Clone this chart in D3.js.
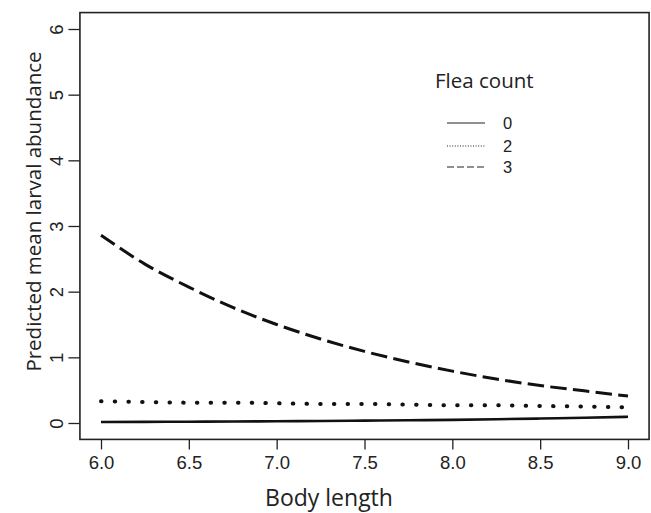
<!DOCTYPE html>
<html>
<head>
<meta charset="utf-8">
<title>Predicted mean larval abundance</title>
<script src="https://cdnjs.cloudflare.com/ajax/libs/d3/7.8.5/d3.min.js"></script>
<style>
  body { margin: 0; background: #fff; }
  svg { display: block; }
</style>
</head>
<body>
<script>
  // values
  var bodyLength = [6.0, 6.25, 6.5, 6.75, 7.0, 7.25, 7.5, 7.75, 8.0, 8.25, 8.5, 8.75, 9.0];
  var flea0 = [0.015, 0.017, 0.02, 0.023, 0.027, 0.031, 0.036, 0.041, 0.048, 0.057, 0.068, 0.08, 0.095];
  var flea2 = [0.33, 0.32, 0.31, 0.31, 0.30, 0.29, 0.29, 0.28, 0.27, 0.27, 0.26, 0.25, 0.24];
  var flea3 = [2.86, 2.42, 2.07, 1.76, 1.50, 1.28, 1.09, 0.93, 0.79, 0.67, 0.57, 0.49, 0.41];
  var seriesNames = ["0", "2", "3"];
  var xTicks = [6.0, 6.5, 7.0, 7.5, 8.0, 8.5, 9.0];
  var yTicks = [0, 1, 2, 3, 4, 5, 6];

  var w = 651, h = 513;
  var tickFont = "'Liberation Sans', Arial, sans-serif";
  var titleFont = "'Open Sans', 'Noto Sans', sans-serif";

  var svg = d3.select("body").append("svg")
      .attr("width", w)
      .attr("height", h);

  var x = d3.scaleLinear().domain([6, 9]).range([101, 628]);
  var y = d3.scaleLinear().domain([0, 6]).range([423, 29]);

  // plot box (R style 4% padding)
  var x0 = x(5.88), x1 = x(9.12), y0 = y(-0.25), y1 = y(6.25);

  // x axis
  var gx = svg.append("g")
      .attr("transform", "translate(0," + y0 + ")")
      .call(d3.axisBottom(x).tickValues(xTicks).tickSize(10).tickPadding(6)
        .tickFormat(d3.format(".1f")));
  gx.select(".domain").remove();
  gx.selectAll("line").attr("stroke", "#222").attr("stroke-width", 1.3);
  gx.selectAll("text")
      .attr("font-family", tickFont)
      .attr("font-size", 18.5)
      .attr("fill", "#222");

  // y axis, labels turned like R's las=0
  var gy = svg.append("g")
      .attr("transform", "translate(" + x0 + ",0)")
      .call(d3.axisLeft(y).tickValues(yTicks).tickSize(11.5).tickFormat(d3.format("d")));
  gy.select(".domain").remove();
  gy.selectAll("line").attr("stroke", "#222").attr("stroke-width", 1.3);
  gy.selectAll("text")
      .attr("font-family", tickFont)
      .attr("font-size", 18.5)
      .attr("fill", "#222")
      .attr("text-anchor", "middle")
      .attr("dy", null)
      .attr("x", null)
      .attr("transform", "translate(-17,0) rotate(-90)");

  svg.append("rect")
      .attr("x", x0).attr("y", y1)
      .attr("width", x1 - x0).attr("height", y0 - y1)
      .attr("fill", "none")
      .attr("stroke", "#222")
      .attr("stroke-width", 1.6);

  // lines
  var line = d3.line()
      .x(function(d) { return x(d[0]); })
      .y(function(d) { return y(d[1]); })
      .curve(d3.curveMonotoneX);

  function pairs(vals) {
    return bodyLength.map(function(b, i) { return [b, vals[i]]; });
  }

  var series = [
    { name: seriesNames[0], vals: flea0, width: 2.6, dash: null, cap: "butt" },
    { name: seriesNames[1], vals: flea2, width: 4, dash: "0.5 13.2", cap: "round" },
    { name: seriesNames[2], vals: flea3, width: 3, dash: "16.5 6.3", cap: "butt" }
  ];

  svg.selectAll("path.series")
      .data(series)
      .enter()
      .append("path")
      .attr("class", "series")
      .attr("d", function(d) { return line(pairs(d.vals)); })
      .attr("fill", "none")
      .attr("stroke", "#111")
      .attr("stroke-width", function(d) { return d.width; })
      .attr("stroke-linecap", function(d) { return d.cap; })
      .attr("stroke-dasharray", function(d) { return d.dash; });

  // legend
  var legend = svg.append("g");
  legend.append("text")
      .attr("x", 435).attr("y", 88)
      .attr("font-family", titleFont)
      .attr("font-size", 20.5)
      .attr("fill", "#222")
      .text("Flea count");

  var legendDash = [null, "1 1.6", "7 3"];
  var legendY = [123, 146, 167];
  series.forEach(function(s, i) {
    legend.append("line")
        .attr("x1", 447).attr("x2", 485)
        .attr("y1", legendY[i]).attr("y2", legendY[i])
        .attr("stroke", "#222")
        .attr("stroke-width", 1.2)
        .attr("stroke-dasharray", legendDash[i]);
    legend.append("text")
        .attr("x", 503).attr("y", legendY[i] + 6)
        .attr("font-family", tickFont)
        .attr("font-size", 16.5)
        .attr("fill", "#222")
        .text(s.name);
  });

  // axis titles
  svg.append("text")
      .attr("x", 329).attr("y", 506)
      .attr("text-anchor", "middle")
      .attr("font-family", titleFont)
      .attr("font-size", 23)
      .attr("fill", "#222")
      .text("Body length");

  svg.append("text")
      .attr("transform", "translate(41,211.5) rotate(-90)")
      .attr("text-anchor", "middle")
      .attr("font-family", titleFont)
      .attr("font-size", 20.5)
      .attr("fill", "#222")
      .text("Predicted mean larval abundance");
</script>
</body>
</html>
